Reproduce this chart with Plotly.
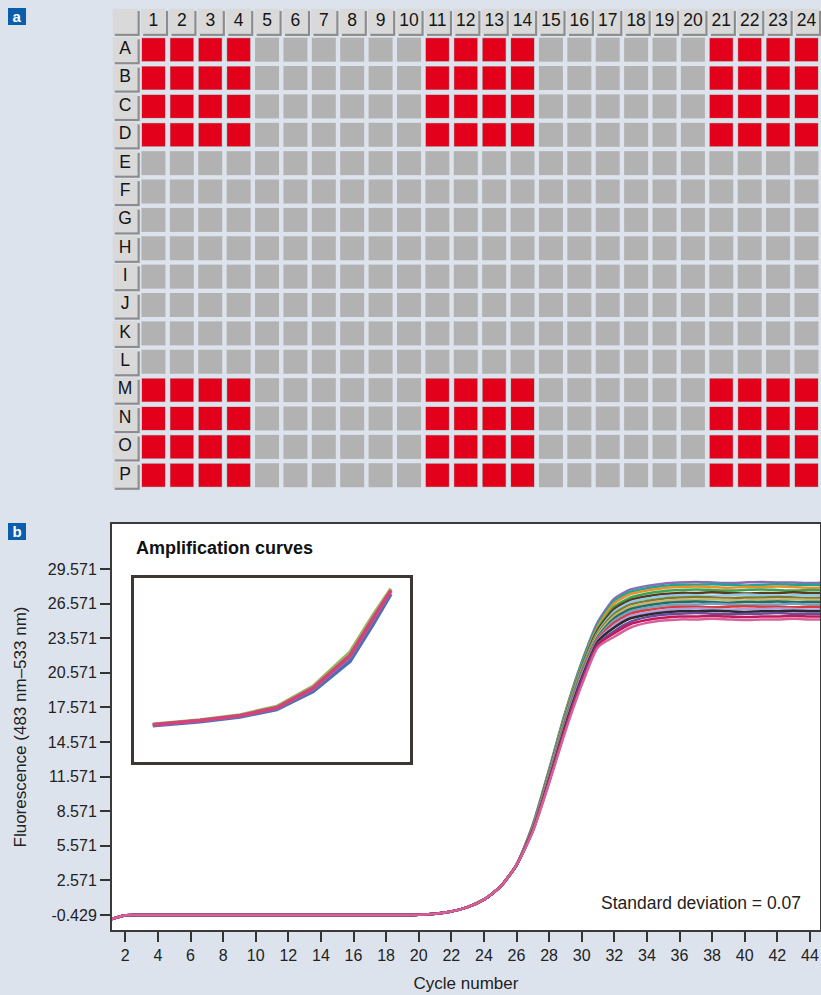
import plotly.graph_objects as go

# ---------------- panel a : plate layout ----------------
col_labels = ["1", "2", "3", "4", "5", "6", "7", "8", "9", "10", "11", "12",
              "13", "14", "15", "16", "17", "18", "19", "20", "21", "22", "23", "24"]
row_labels = ["A", "B", "C", "D", "E", "F", "G", "H", "I", "J", "K", "L", "M", "N", "O", "P"]
red_rows = ["A", "B", "C", "D", "M", "N", "O", "P"]
red_cols = ["1", "2", "3", "4", "11", "12", "13", "14", "21", "22", "23", "24"]

# ---------------- panel b : amplification curves ----------------
cycles = [1, 2, 3, 4, 5, 6, 7, 8, 9, 10, 11, 12, 13, 14, 15, 16, 17, 18, 19, 20,
          21, 22, 23, 24, 25, 26, 27, 28, 29, 30, 31, 32, 33, 34, 35, 36, 37, 38, 39, 40,
          41, 42, 43, 44, 45]
# shared part of all curves, cycles 1-26
curve_head = [-0.85, -0.45, -0.43, -0.43, -0.43, -0.43, -0.43, -0.43, -0.43, -0.43,
              -0.43, -0.43, -0.43, -0.43, -0.43, -0.43, -0.43, -0.43, -0.43, -0.41,
              -0.33, -0.12, 0.25, 0.9, 2.0, 3.9]
# per-well part, cycles 27-45
curve_tails = [
    [7.4, 12.2, 17.2, 21.5, 25.0, 27.0, 27.8, 28.1, 28.3, 28.4, 28.45, 28.4, 28.35, 28.4, 28.45, 28.4, 28.4, 28.35, 28.4],
    [7.35, 12.1, 17.1, 21.4, 24.8, 26.8, 27.6, 27.9, 28.1, 28.2, 28.2, 28.25, 28.2, 28.15, 28.2, 28.25, 28.2, 28.2, 28.2],
    [7.3, 12.0, 17.0, 21.2, 24.6, 26.6, 27.4, 27.7, 27.9, 28.0, 28.05, 28.0, 27.95, 28.0, 28.0, 28.05, 28.0, 27.95, 28.0],
    [7.25, 11.95, 16.9, 21.1, 24.4, 26.3, 27.1, 27.45, 27.65, 27.75, 27.8, 27.75, 27.7, 27.75, 27.8, 27.75, 27.7, 27.75, 27.75],
    [7.2, 11.9, 16.8, 21.0, 24.3, 26.1, 26.9, 27.2, 27.4, 27.5, 27.5, 27.55, 27.5, 27.45, 27.5, 27.5, 27.55, 27.5, 27.5],
    [7.15, 11.8, 16.7, 20.9, 24.1, 25.9, 26.7, 27.0, 27.2, 27.3, 27.3, 27.25, 27.3, 27.35, 27.3, 27.25, 27.3, 27.3, 27.3],
    [7.1, 11.75, 16.6, 20.8, 24.0, 25.7, 26.5, 26.8, 27.0, 27.1, 27.15, 27.1, 27.05, 27.1, 27.1, 27.15, 27.1, 27.05, 27.1],
    [7.1, 11.7, 16.5, 20.7, 23.9, 25.5, 26.3, 26.6, 26.8, 26.9, 26.9, 26.95, 26.9, 26.85, 26.9, 26.9, 26.95, 26.9, 26.9],
    [7.05, 11.6, 16.4, 20.6, 23.7, 25.3, 26.1, 26.4, 26.6, 26.7, 26.75, 26.7, 26.65, 26.7, 26.7, 26.75, 26.7, 26.7, 26.7],
    [7.0, 11.55, 16.3, 20.5, 23.6, 25.1, 25.9, 26.2, 26.4, 26.5, 26.5, 26.55, 26.5, 26.45, 26.5, 26.5, 26.55, 26.5, 26.5],
    [7.0, 11.5, 16.2, 20.4, 23.5, 24.9, 25.7, 26.0, 26.2, 26.3, 26.3, 26.25, 26.3, 26.35, 26.3, 26.3, 26.25, 26.3, 26.3],
    [6.95, 11.4, 16.1, 20.3, 23.4, 24.7, 25.5, 25.8, 26.0, 26.1, 26.15, 26.1, 26.05, 26.1, 26.1, 26.15, 26.1, 26.05, 26.1],
    [6.9, 11.3, 16.0, 20.1, 23.3, 24.5, 25.3, 25.6, 25.8, 25.9, 25.9, 25.95, 25.9, 25.85, 25.9, 25.9, 25.95, 25.9, 25.9],
    [6.9, 11.2, 15.8, 19.9, 23.1, 24.2, 25.0, 25.4, 25.6, 25.7, 25.75, 25.7, 25.65, 25.7, 25.7, 25.75, 25.7, 25.7, 25.7],
    [6.85, 11.1, 15.7, 19.7, 23.0, 24.0, 24.8, 25.15, 25.35, 25.45, 25.45, 25.5, 25.45, 25.4, 25.45, 25.45, 25.5, 25.45, 25.45],
    [6.8, 11.0, 15.5, 19.5, 22.8, 23.7, 24.5, 24.9, 25.1, 25.2, 25.2, 25.25, 25.2, 25.15, 25.2, 25.2, 25.25, 25.2, 25.2],
]
curve_colors = ["#8e6bb3", "#1aa69b", "#e8912c", "#3aa655", "#5a3a1e", "#8ecae6",
                "#7a7a30", "#c8b46e", "#1d6f6a", "#7aa0c0", "#d93b3b", "#b39ddb",
                "#2a2a2a", "#6a4c9c", "#c2185b", "#d6609a"]

y_tickvals = [-0.429, 2.571, 5.571, 8.571, 11.571, 14.571, 17.571, 20.571, 23.571, 26.571, 29.571]
y_ticktext = ["-0.429", "2.571", "5.571", "8.571", "11.571", "14.571", "17.571",
              "20.571", "23.571", "26.571", "29.571"]

# inset (zoom on the exponential phase), arbitrary units
inset_x = [0.68, 2.39, 3.84, 5.17, 6.49, 7.83, 8.66, 9.31]
inset_series = [
    [2.05, 2.28, 2.56, 3.02, 4.12, 5.98, 7.98, 9.42],
    [1.97, 2.19, 2.45, 2.85, 3.83, 5.47, 7.47, 9.13],
    [2.01, 2.24, 2.50, 2.92, 3.97, 5.71, 7.72, 9.29],
    [2.03, 2.26, 2.52, 2.95, 4.02, 5.80, 7.80, 9.33],
]
inset_colors = ["#8fb85a", "#4a6fb5", "#8a6fb0", "#d8407a"]

FONT = "Liberation Sans, Arial, sans-serif"
BG = "#dde3ec"
W, H = 821, 995

fig = go.Figure()

# ---- panel a traces ----
hx = [0] + [col_labels.index(c) + 1 for c in col_labels] + [0] * len(row_labels)
hy = [0] + [0] * len(col_labels) + [row_labels.index(r) + 1 for r in row_labels]
htext = [""] + col_labels + row_labels

fig.add_trace(go.Scatter(
    x=[v + 0.075 for v in hx], y=[v + 0.075 for v in hy], mode="markers",
    marker=dict(symbol="square", size=25, color="#8c8c8c", line=dict(width=0)),
    xaxis="x3", yaxis="y3", hoverinfo="skip"))
fig.add_trace(go.Scatter(
    x=hx, y=hy, mode="markers+text", text=htext, textposition="middle center",
    textfont=dict(family=FONT, size=17.5, color="#151515"),
    marker=dict(symbol="square", size=25, color="#d9d9d9", line=dict(width=0)),
    xaxis="x3", yaxis="y3", hoverinfo="skip"))

wx, wy = [], []
for r in row_labels:
    for c in col_labels:
        wx.append(col_labels.index(c) + 1)
        wy.append(row_labels.index(r) + 1)
fig.add_trace(go.Scatter(
    x=wx, y=wy, mode="markers",
    marker=dict(symbol="square", size=24, color="#b2b2b2", line=dict(width=0)),
    xaxis="x3", yaxis="y3", hoverinfo="skip"))

rx, ry = [], []
for r in red_rows:
    for c in red_cols:
        rx.append(col_labels.index(c) + 1)
        ry.append(row_labels.index(r) + 1)
fig.add_trace(go.Scatter(
    x=rx, y=ry, mode="markers",
    marker=dict(symbol="square", size=23, color="#e2001a", line=dict(width=0)),
    xaxis="x3", yaxis="y3", hoverinfo="skip"))

# ---- panel b traces ----
for tail, col in zip(curve_tails, curve_colors):
    yv = curve_head + tail
    fig.add_trace(go.Scatter(
        x=cycles[:len(yv)], y=yv, mode="lines",
        line=dict(color=col, width=2.5, shape="spline", smoothing=0.6),
        xaxis="x", yaxis="y", hoverinfo="skip"))

for ys, col in zip(inset_series, inset_colors):
    fig.add_trace(go.Scatter(
        x=inset_x, y=ys, mode="lines", line=dict(color=col, width=3.5),
        xaxis="x2", yaxis="y2", hoverinfo="skip"))

px = lambda v: v / W
py = lambda v: 1 - v / H

fig.update_layout(
    width=W, height=H, margin=dict(l=0, r=0, t=0, b=0),
    paper_bgcolor=BG, plot_bgcolor="rgba(0,0,0,0)", showlegend=False,
    font=dict(family=FONT, color="#222"),
    xaxis=dict(domain=[px(112), px(820)], range=[1.184, 44.62], anchor="y",
               tickmode="linear", tick0=2, dtick=2, ticks="outside", ticklen=10,
               tickwidth=1.5, tickcolor="#333", showline=True, mirror=True,
               linecolor="#3a3a3a", linewidth=2, showgrid=False, zeroline=False,
               tickfont=dict(size=16, color="#222"), automargin=False,
               title=dict(text="Cycle number", font=dict(size=17, color="#222"), standoff=14)),
    yaxis=dict(domain=[py(930), py(524)], range=[-1.730, 33.473], anchor="x",
               tickmode="array", tickvals=y_tickvals, ticktext=y_ticktext, ticks="outside",
               ticklen=10, tickwidth=1.5, tickcolor="#333", showline=True, mirror=True,
               linecolor="#3a3a3a", linewidth=2, showgrid=False, zeroline=False,
               tickfont=dict(size=16, color="#222"), automargin=False,
               title=dict(text="Fluorescence (483 nm\u2013533 nm)", font=dict(size=17, color="#222"), standoff=17)),
    xaxis2=dict(domain=[px(134), px(410)], range=[0, 10], anchor="y2",
                showline=True, mirror=True, linecolor="#3e3633", linewidth=3,
                showticklabels=False, ticks="", showgrid=False, zeroline=False),
    yaxis2=dict(domain=[py(762), py(578)], range=[0, 10], anchor="x2",
                showline=True, mirror=True, linecolor="#3e3633", linewidth=3,
                showticklabels=False, ticks="", showgrid=False, zeroline=False),
    xaxis3=dict(domain=[0, 1], range=[-4.406, 24.512], anchor="y3", visible=False),
    yaxis3=dict(domain=[py(500), 1], range=[16.873, -0.751], anchor="x3", visible=False),
    shapes=[dict(type="rect", xref="x domain", yref="y domain", x0=0, x1=1, y0=0, y1=1,
                 fillcolor="white", line=dict(width=0), layer="below")],
    annotations=[
        dict(text="<b>a</b>", x=px(8), y=py(8), xref="paper", yref="paper",
             xanchor="left", yanchor="top", showarrow=False, bgcolor="#0a5fad",
             font=dict(color="white", size=15, family=FONT), width=18, height=17,
             borderpad=0, borderwidth=0),
        dict(text="<b>b</b>", x=px(8), y=py(523), xref="paper", yref="paper",
             xanchor="left", yanchor="top", showarrow=False, bgcolor="#0a5fad",
             font=dict(color="white", size=15, family=FONT), width=18, height=17,
             borderpad=0, borderwidth=0),
        dict(text="<b>Amplification curves</b>", x=px(134), y=py(548), xref="paper", yref="paper",
             xanchor="left", yanchor="middle", showarrow=False,
             font=dict(color="#111", size=18, family=FONT)),
        dict(text="Standard deviation = 0.07", x=px(803), y=py(903), xref="paper", yref="paper",
             xanchor="right", yanchor="middle", showarrow=False,
             font=dict(color="#222", size=17.5, family=FONT)),
    ],
)

fig.write_html(
    "out.html",
    config={"displayModeBar": False},
    post_script="document.body.style.margin='0';document.body.style.padding='0';"
                "document.body.style.overflow='hidden';",
)
